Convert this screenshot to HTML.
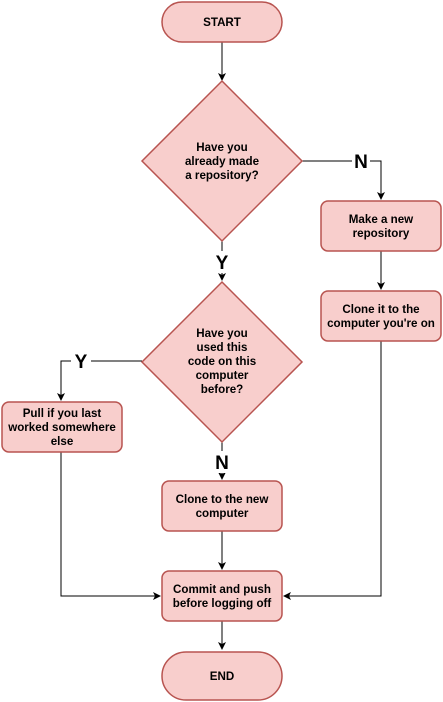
<!DOCTYPE html>
<html><head><style>body{margin:0;background:#fff}svg{display:block}</style></head><body>
<svg width="443" height="702" viewBox="0 0 443 702" xmlns="http://www.w3.org/2000/svg" font-family="Liberation Sans, Arial, sans-serif">
<defs><marker id="a" markerWidth="8" markerHeight="8" refX="7" refY="4" orient="auto" markerUnits="userSpaceOnUse"><path d="M0,0 L8,4 L0,8 L2,4 Z" fill="#000"/></marker></defs>
<g stroke="#000" stroke-width="1" fill="none">
<line x1="222" y1="42" x2="222" y2="80" marker-end="url(#a)"/>
<polyline points="302,161 381,161 381,199" marker-end="url(#a)"/>
<line x1="381" y1="251" x2="381" y2="289" marker-end="url(#a)"/>
<polyline points="381,341 381,596 284,596" marker-end="url(#a)"/>
<line x1="222" y1="240" x2="222" y2="280" marker-end="url(#a)"/>
<polyline points="142,361 61,361 61,400" marker-end="url(#a)"/>
<polyline points="61,451 61,596 160,596" marker-end="url(#a)"/>
<line x1="222" y1="441" x2="222" y2="479" marker-end="url(#a)"/>
<line x1="222" y1="531" x2="222" y2="569" marker-end="url(#a)"/>
<line x1="222" y1="621" x2="222" y2="649" marker-end="url(#a)"/>
</g>
<g font-size="19" font-weight="bold" text-anchor="middle" fill="#000">
<rect x="352" y="150" width="18" height="22" fill="#fff"/><text x="361" y="168">N</text>
<rect x="212" y="251" width="20" height="22" fill="#fff"/><text x="222" y="269">Y</text>
<rect x="71" y="350" width="20" height="22" fill="#fff"/><text x="81" y="368">Y</text>
<rect x="212" y="451" width="20" height="22" fill="#fff"/><text x="222" y="469">N</text>
</g>
<g fill="#f8cecc" stroke="#b85450" stroke-width="1.5">
<rect x="162" y="2" width="120" height="40" rx="20"/>
<polygon points="222,81 302,161 222,241 142,161"/>
<rect x="321" y="201" width="120" height="50" rx="7"/>
<rect x="321" y="291" width="120" height="50" rx="7"/>
<polygon points="222,282 302,362 222,442 142,362"/>
<rect x="2" y="402" width="120" height="50" rx="7"/>
<rect x="162" y="481" width="120" height="50" rx="7"/>
<rect x="162" y="571" width="120" height="50" rx="7"/>
<rect x="162" y="652" width="120" height="48" rx="24"/>
</g>
<g font-size="11.6" font-weight="bold" text-anchor="middle" fill="#000">
<text x="222" y="26">START</text>
<text x="222" y="151">Have you</text><text x="222" y="165">already made</text><text x="222" y="179">a repository?</text>
<text x="381" y="223">Make a new</text><text x="381" y="237">repository</text>
<text x="381" y="313">Clone it to the</text><text x="381" y="327">computer you're on</text>
<text x="222" y="337">Have you</text><text x="222" y="351">used this</text><text x="222" y="365">code on this</text><text x="222" y="379">computer</text><text x="222" y="393">before?</text>
<text x="62" y="417">Pull if you last</text><text x="62" y="431">worked somewhere</text><text x="62" y="445">else</text>
<text x="222" y="503">Clone to the new</text><text x="222" y="517">computer</text>
<text x="222" y="593">Commit and push</text><text x="222" y="607">before logging off</text>
<text x="222" y="680">END</text>
</g>
</svg>
</body></html>
